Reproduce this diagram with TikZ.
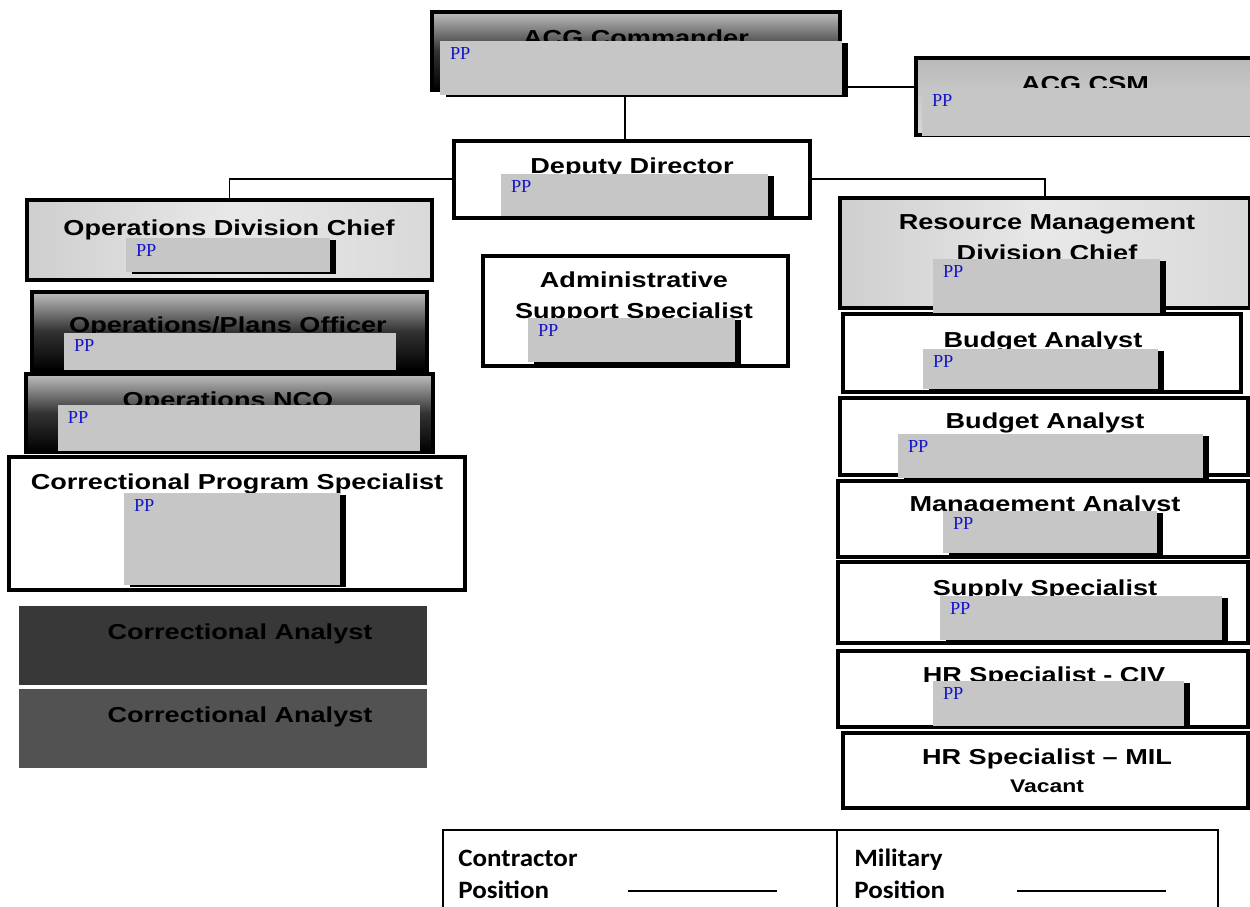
\documentclass[tikz,border=0pt]{standalone}
\usepackage{fontspec}
\setmainfont{Liberation Sans}
\newfontfamily\tfont[FakeStretch=1.25]{Liberation Sans}
\newfontfamily\ppfont{Liberation Serif}
\newfontfamily\legfont[FakeStretch=1.08]{Carlito}
\usetikzlibrary{fit,shadows,calc}
\definecolor{ppgray}{HTML}{C6C6C6}
\definecolor{ppblue}{HTML}{1414C8}
\begin{document}
\begin{tikzpicture}[x=0.6pt,y=-0.6pt,
  box/.style={rectangle, draw=black, line width=2pt, inner sep=0pt},
  whitebox/.style={box, fill=white},
  litebox/.style={box, left color=gray!38, right color=gray!30, middle color=gray!18},
  darkbox/.style={box, top color=gray!50, bottom color=black, middle color=gray!40!black},
  csmbox/.style={box, top color=gray!55, bottom color=gray!30},
  vdarkbox/.style={rectangle, inner sep=0pt, draw=none, fill=#1},
  ppbox/.style={rectangle, inner sep=0pt, draw=none, fill=ppgray,
     drop shadow={shadow xshift=3.6pt, shadow yshift=-1.2pt, fill=black, opacity=1}},
  ppflat/.style={rectangle, inner sep=0pt, draw=none, fill=ppgray},
  pp/.style={font=\ppfont\fontsize{11}{13}\selectfont, text=ppblue, inner sep=0pt,
     anchor=north west, xshift=6pt, yshift=-3.6pt},
  title/.style={font=\tfont\bfseries\fontsize{13}{15}\selectfont, inner sep=0pt, anchor=base},
  subtitle/.style={font=\tfont\bfseries\fontsize{11}{13}\selectfont, inner sep=0pt, anchor=base},
  conn/.style={draw=black, line width=0.8pt},
  legtext/.style={font=\legfont\bfseries\fontsize{15}{17}\selectfont, inner sep=0pt, anchor=base west},
  legbox/.style={rectangle, draw=black, line width=1.6pt, inner sep=0pt, fill=white},
]
\useasboundingbox (0,0) rectangle (1250,907);
\clip (0,0) rectangle (1250,907);
\fill[white] (0,0) rectangle (1250,907);

% ---------- outer boxes ----------
\node[darkbox, fit={(432,12) (840,90)}] (cmd) {};
\node[csmbox, fit={(916,58) (1252,135)}] (csm) {};
\node[whitebox, fit={(454,141) (810,218)}] (dep) {};
\node[litebox, fit={(27,200) (432,280)}] (odc) {};
\node[litebox, fit={(840,198) (1250,308)}] (rm) {};
\node[whitebox, fit={(483,256) (788,366)}] (adm) {};
\node[darkbox, fit={(32,292) (427,370)}] (opo) {};
\node[darkbox, fit={(26,374) (433,452)}] (nco) {};
\node[whitebox, fit={(9,457) (465,590)}] (cps) {};
\node[vdarkbox=black!78, fit={(19,606) (427,685)}] (ca1) {};
\node[vdarkbox=black!68, fit={(19,689) (427,768)}] (ca2) {};
\node[whitebox, fit={(843,314) (1241,392)}] (ba1) {};
\node[whitebox, fit={(840,398) (1248,475)}] (ba2) {};
\node[whitebox, fit={(838,481) (1248,557)}] (ma) {};
\node[whitebox, fit={(838,562) (1248,643)}] (ss) {};
\node[whitebox, fit={(838,651) (1248,727)}] (hrc) {};
\node[whitebox, fit={(843,733) (1248,808)}] (hrm) {};

% ---------- titles ----------
\node[title] (t-cmd) at (636,46) {ACG Commander};
\node[title] (t-csm) at (1085,92) {ACG CSM};
\node[title] (t-dep) at (632,174) {Deputy Director};
\node[title] (t-odc) at (229,236) {Operations Division Chief};
\node[title] (t-rm1) at (1047,230) {Resource Management};
\node[title] (t-rm2) at (1047,261) {Division Chief};
\node[title] (t-adm1) at (634,288) {Administrative};
\node[title] (t-adm2) at (634,319) {Support Specialist};
\node[title] (t-opo) at (228,333) {Operations/Plans Officer};
\node[title] (t-nco) at (228,408) {Operations NCO};
\node[title] (t-cps) at (237,489) {Correctional Program Specialist};
\node[title, text=black] (t-ca1) at (240,639) {Correctional Analyst};
\node[title, text=black] (t-ca2) at (240,722) {Correctional Analyst};
\node[title] (t-ba1) at (1043,348) {Budget Analyst};
\node[title] (t-ba2) at (1045,429) {Budget Analyst};
\node[title] (t-ma) at (1045,512) {Management Analyst};
\node[title] (t-ss) at (1045,595) {Supply Specialist};
\node[title] (t-hrc) at (1044,682) {HR Specialist - CIV};
\node[title] (t-hrm) at (1047,764) {HR Specialist – MIL};
\node[subtitle] (t-vac) at (1047,792) {Vacant};

% ---------- PP boxes ----------
\node[ppbox, fit={(440,41) (842,95)}] (p-cmd) {};
\node[ppflat, fit={(922,88) (1252,136)}] (p-csm) {};
\node[ppbox, fit={(501,174) (768,216)}] (p-dep) {};
\node[ppbox, fit={(126,238) (330,272)}] (p-odc) {};
\node[ppbox, fit={(933,259) (1160,313)}] (p-rm) {};
\node[ppbox, fit={(528,318) (735,362)}] (p-adm) {};
\node[ppflat, fit={(64,333) (396,370)}] (p-opo) {};
\node[ppflat, fit={(58,405) (420,451)}] (p-nco) {};
\node[ppbox, fit={(124,493) (340,585)}] (p-cps) {};
\node[ppbox, fit={(923,349) (1158,389)}] (p-ba1) {};
\node[ppbox, fit={(898,434) (1203,478)}] (p-ba2) {};
\node[ppbox, fit={(943,511) (1157,553)}] (p-ma) {};
\node[ppbox, fit={(940,596) (1222,640)}] (p-ss) {};
\node[ppbox, fit={(933,681) (1184,726)}] (p-hrc) {};

\foreach \n in {cmd,csm,dep,odc,rm,adm,opo,nco,cps,ba1,ba2,ma,ss,hrc}
  \node[pp] (pp-\n) at (p-\n.north west) {PP};

% ---------- connectors ----------
\coordinate (k1) at (625,0);
\coordinate (k2) at (0,87);
\coordinate (k3) at (0,179);
\draw[conn] (p-cmd.south -| k1) -- (dep.north -| k1);
\draw[conn] (p-cmd.east |- k2) -- (csm.west |- k2);
\draw[conn] (dep.west |- k3) -| (odc.north);
\draw[conn] (dep.east |- k3) -| (rm.north);

% ---------- legend ----------
\node[legbox, fit={(443,830) (837,940)}] (leg1) {};
\node[legbox, fit={(837,830) (1218,940)}] (leg2) {};
\node[legtext] (l-c1) at (458,866) {Contractor};
\node[legtext] (l-c2) at (458,898) {Position};
\node[legtext] (l-m1) at (854,866) {Military};
\node[legtext] (l-m2) at (854,898) {Position};
\coordinate (lc-a) at (628,891);
\coordinate (lc-b) at (777,891);
\coordinate (lm-a) at (1017,891);
\coordinate (lm-b) at (1166,891);
\draw[line width=1.3pt] (lc-a) -- (lc-b);
\draw[line width=1.3pt] (lm-a) -- (lm-b);
\end{tikzpicture}
\end{document}
